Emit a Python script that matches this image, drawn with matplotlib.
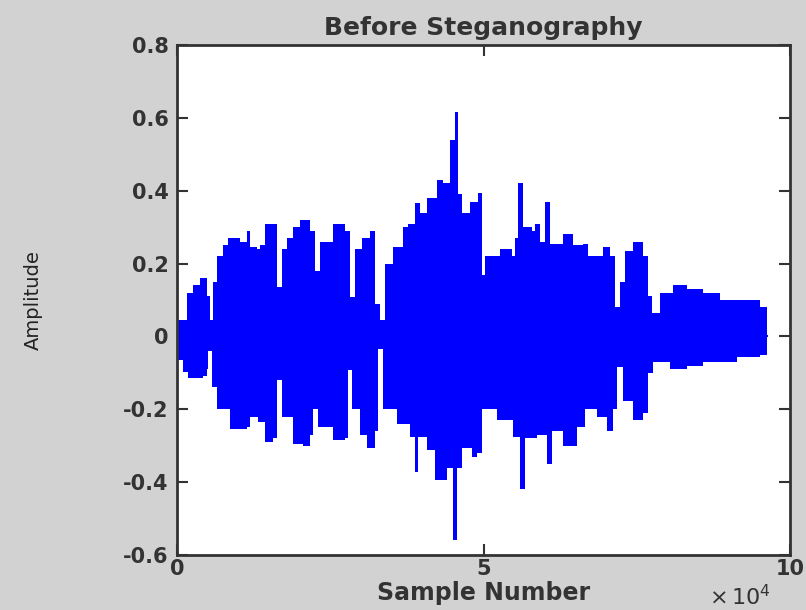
import matplotlib
matplotlib.use("Agg")
import matplotlib.pyplot as plt

# Envelope of the waveform (sample index, amplitude).
upper_x = [0, 200, 1580, 2660, 3750, 4570, 4840, 5380, 5920, 6470, 7550, 8370,
           10280, 11370, 11910, 13000, 13540, 14360, 15710, 16260, 17080, 17900,
           18980, 20070, 21700, 22510, 23330, 25500, 27410, 28220, 29040, 30130,
           31480, 32300, 33120, 33930, 35290, 36920, 37730, 38830, 39640, 40730,
           42360, 43440, 44540, 45350, 45890, 46440, 47800, 49150, 49700, 50250,
           52690, 54600, 55140, 55680, 56500, 57860, 58400, 59220, 60030, 60850,
           63020, 64650, 66280, 67100, 68460, 69540, 70640, 71450, 72270, 73080,
           74440, 76070, 76880, 77440, 78790, 80960, 83150, 85860, 88580, 92380,
           95100, 96250]
upper_y = [0.03, 0.044, 0.118, 0.14, 0.16, 0.16, 0.11, 0.044, 0.15, 0.22, 0.25, 0.27,
           0.26, 0.29, 0.245, 0.24, 0.25, 0.31, 0.31, 0.135, 0.24, 0.27,
           0.30, 0.32, 0.29, 0.18, 0.26, 0.31, 0.29, 0.107, 0.24, 0.27,
           0.29, 0.09, 0.044, 0.20, 0.245, 0.30, 0.31, 0.365, 0.34, 0.38,
           0.43, 0.42, 0.54, 0.615, 0.39, 0.34, 0.37, 0.395, 0.17, 0.22,
           0.24, 0.22, 0.27, 0.42, 0.30, 0.29, 0.31, 0.26, 0.37, 0.255,
           0.28, 0.25, 0.255, 0.22, 0.22, 0.245, 0.22, 0.08, 0.15, 0.235,
           0.26, 0.22, 0.11, 0.063, 0.118, 0.14, 0.13, 0.118, 0.10, 0.10,
           0.08, 0.0]

lower_x = [0, 200, 1030, 1840, 4290, 4840, 5110, 5660, 6470, 8650, 11370, 11910,
           13270, 14360, 15710, 16260, 17080, 18980, 20610, 21700, 22240, 23060,
           25500, 27410, 27950, 28490, 29850, 30950, 32300, 32840, 33650, 35830,
           38010, 38830, 39360, 40730, 42090, 43990, 45070, 45630, 46440, 48080,
           48890, 49700, 52150, 54860, 55960, 56770, 58680, 60310, 61130, 63020,
           65200, 66560, 68460, 70100, 71180, 71730, 72810, 74440, 76070, 76880,
           77700, 80420, 83150, 85860, 91300, 95100, 96250]
lower_y = [-0.03, -0.066, -0.098, -0.115, -0.11, -0.09, -0.04, -0.14, -0.20, -0.253, -0.25, -0.22,
           -0.235, -0.29, -0.28, -0.12, -0.22, -0.295, -0.30, -0.27, -0.20, -0.25,
           -0.285, -0.28, -0.093, -0.20, -0.27, -0.305, -0.26, -0.035, -0.20, -0.24,
           -0.275, -0.373, -0.275, -0.313, -0.395, -0.36, -0.56, -0.36, -0.305, -0.33,
           -0.32, -0.20, -0.23, -0.277, -0.42, -0.28, -0.27, -0.35, -0.26, -0.30,
           -0.25, -0.20, -0.22, -0.26, -0.20, -0.085, -0.176, -0.23, -0.21, -0.10,
           -0.07, -0.09, -0.08, -0.07, -0.057, -0.05, 0.0]

x_ticks = [0, 50000, 100000]
x_tick_labels = ["0", "5", "10"]
y_ticks = [-0.6, -0.4, -0.2, 0, 0.2, 0.4, 0.6, 0.8]
y_tick_labels = ["-0.6", "-0.4", "-0.2", "0", "0.2", "0.4", "0.6", "0.8"]

bg = "#d2d2d2"
ink = "#333333"

fig = plt.figure(figsize=(8.06, 6.10), dpi=100, facecolor=bg)
ax = fig.add_axes([0.2196, 0.0902, 0.7606, 0.836])
ax.set_facecolor("white")

# Waveform drawn as its filled envelope.
ax.fill_between(upper_x, upper_y, 0, step="post", color="#0000ff", linewidth=0)
ax.fill_between(lower_x, lower_y, 0, step="post", color="#0000ff", linewidth=0)
ax.plot([0, 96250], [0, 0], color="#0000ff", linewidth=1.5)

ax.set_xlim(0, 100000)
ax.set_ylim(-0.6, 0.8)
ax.set_xticks(x_ticks)
ax.set_xticklabels(x_tick_labels)
ax.set_yticks(y_ticks)
ax.set_yticklabels(y_tick_labels)

ax.tick_params(direction="in", length=8, width=1.5, color=ink,
               top=True, right=True, labelsize=15, labelcolor=ink)
ax.tick_params(axis="x", pad=3)
ax.tick_params(axis="y", pad=6)
for lbl in ax.get_xticklabels() + ax.get_yticklabels():
    lbl.set_fontweight("bold")
for side in ["left", "bottom", "top", "right"]:
    ax.spines[side].set_color(ink)
    ax.spines[side].set_linewidth(2)

ax.set_title("Before Steganography", fontsize=18, fontweight="bold",
             color=ink, pad=7)
ax.set_xlabel("Sample Number", fontsize=17, fontweight="bold",
              color=ink, labelpad=1)
ax.set_ylabel("Amplitude", fontsize=14, color="#222222", labelpad=58)
fig.text(0.918, 0.002, r"$\times\,10^4$", fontsize=16, color=ink,
         ha="center", va="bottom")

fig.savefig("out.png", dpi=100, facecolor=bg)
plt.close(fig)
